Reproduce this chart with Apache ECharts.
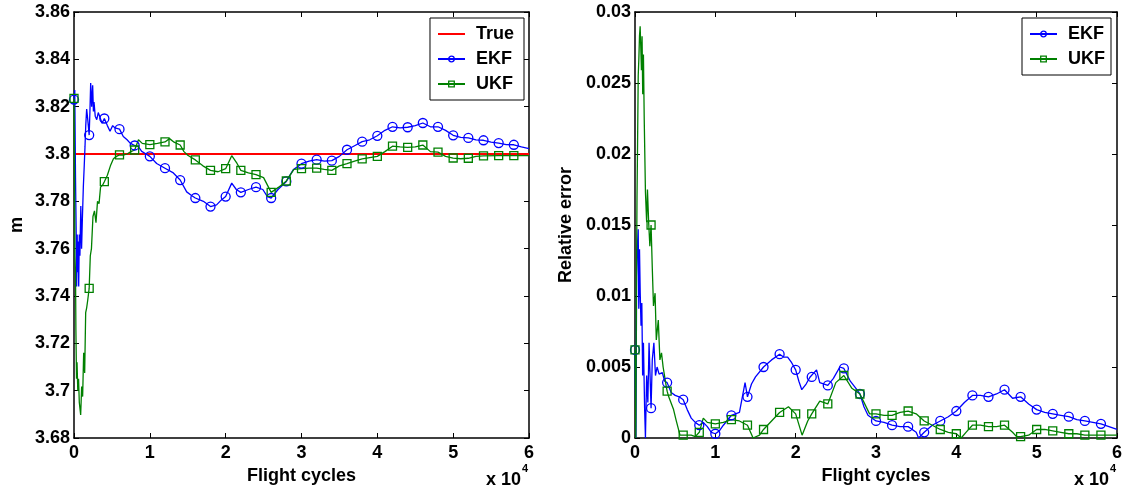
<!DOCTYPE html>
<html><head><meta charset="utf-8">
<script src="https://cdn.jsdelivr.net/npm/echarts@6/dist/echarts.min.js"></script>
<style>html,body{margin:0;padding:0;background:#fff}#c{width:1130px;height:495px}</style>
</head><body><div id="c"></div>
<script>
const xTickLabels = ['0','1','2','3','4','5','6'];
const mTickLabels = ['3.68','3.7','3.72','3.74','3.76','3.78','3.8','3.82','3.84','3.86'];
const errTickLabels = ['0','0.005','0.01','0.015','0.02','0.025','0.03'];

const trueM = [[0,3.8],[60000,3.8]];

const ekfM = [[0,3.823],[100,3.827],[200,3.79],[280,3.769],[350,3.744],[420,3.766],[480,3.750],[550,3.763],[620,3.744],[700,3.766],[780,3.757],[900,3.778],[1000,3.760],[1100,3.772],[1230,3.786],[1350,3.795],[1450,3.803],[1550,3.812],[1670,3.819],[1800,3.815],[2000,3.808],[2100,3.818],[2200,3.830],[2330,3.820],[2460,3.829],[2560,3.818],[2640,3.822],[2800,3.816],[3000,3.8145],[3200,3.8175],[3430,3.818],[3700,3.813],[4000,3.815],[4400,3.812],[4750,3.8096],[5100,3.812],[5410,3.811],[6000,3.8105],[6500,3.8074],[7000,3.806],[7400,3.8046],[8000,3.8036],[8500,3.803],[8930,3.8011],[9500,3.8],[10000,3.799],[10900,3.796],[12000,3.794],[13100,3.792],[14000,3.789],[14860,3.784],[15500,3.7825],[16000,3.7814],[17060,3.780],[18000,3.7778],[18800,3.7785],[19400,3.7805],[20000,3.782],[20800,3.7877],[21400,3.785],[22000,3.7838],[23000,3.785],[24000,3.786],[24900,3.785],[25500,3.782],[26000,3.7814],[26900,3.785],[28000,3.7884],[28900,3.7933],[30000,3.7959],[31000,3.797],[32000,3.7976],[33000,3.797],[34000,3.7972],[35000,3.799],[36000,3.8018],[37000,3.8035],[38000,3.8052],[39000,3.806],[40000,3.8077],[41000,3.810],[42000,3.8115],[43000,3.811],[44000,3.8113],[45000,3.812],[46000,3.8131],[47000,3.8115],[48000,3.8115],[49000,3.810],[50000,3.8079],[51000,3.807],[52000,3.8068],[53000,3.806],[54000,3.8058],[55000,3.805],[56000,3.8046],[57000,3.804],[58000,3.8039],[59000,3.803],[60000,3.8023]];

const ukfM = [[0,3.8235],[60,3.80],[120,3.757],[200,3.750],[250,3.7258],[330,3.705],[400,3.712],[500,3.700],[600,3.705],[700,3.695],[880,3.6897],[1010,3.7017],[1140,3.6975],[1275,3.716],[1407,3.7075],[1540,3.733],[1670,3.735],[1800,3.738],[2000,3.7432],[2150,3.757],[2300,3.76],[2500,3.7736],[2700,3.776],[2900,3.771],[3100,3.78],[3300,3.779],[3500,3.786],[3800,3.787],[4000,3.7883],[4400,3.791],[4800,3.795],[5200,3.798],[5600,3.799],[6000,3.7996],[6500,3.7995],[7000,3.800],[7500,3.801],[8000,3.8017],[8500,3.806],[9000,3.8045],[10000,3.804],[11000,3.8045],[12000,3.8051],[12600,3.8065],[13200,3.805],[14000,3.8038],[14500,3.801],[15000,3.7995],[16000,3.7975],[17000,3.795],[18000,3.7931],[19000,3.7925],[20000,3.7938],[20800,3.7993],[21500,3.796],[22000,3.7931],[23000,3.792],[24000,3.7913],[25000,3.790],[26000,3.7838],[27000,3.786],[28000,3.7886],[29000,3.7935],[30000,3.7938],[31000,3.794],[32000,3.794],[33000,3.7935],[34000,3.7931],[35000,3.795],[36000,3.7959],[37000,3.797],[38000,3.7979],[39000,3.7985],[40000,3.799],[41000,3.801],[42000,3.8033],[43000,3.803],[44000,3.8028],[45000,3.803],[46000,3.8038],[47000,3.801],[48000,3.8008],[49000,3.799],[50000,3.7983],[51000,3.798],[52000,3.7982],[53000,3.799],[54000,3.7992],[56000,3.7993],[58000,3.7993],[60000,3.7993]];

const ekfErr = [[0,0.0062],[60,0.003],[120,0.0],[200,0.0114],[300,0.0135],[400,0.0147],[470,0.0091],[560,0.0133],[650,0.0102],[750,0.0079],[850,0.0095],[950,0.0044],[1050,0.0067],[1200,0.002],[1300,0.0],[1450,0.0044],[1600,0.0025],[1750,0.0067],[2000,0.0021],[2150,0.0055],[2350,0.0067],[2550,0.0044],[2750,0.005],[3000,0.0045],[3400,0.0046],[3700,0.004],[4000,0.0039],[4500,0.0032],[5000,0.003],[5500,0.0029],[6000,0.0027],[6500,0.002],[7000,0.0014],[7500,0.0011],[8000,0.0009],[8500,0.0011],[9000,0.0008],[9500,0.0004],[10000,0.0003],[10500,0.0005],[11000,0.0009],[12000,0.0016],[13000,0.0018],[13700,0.0039],[14000,0.0029],[14500,0.0038],[15000,0.0043],[16000,0.005],[17000,0.0055],[18000,0.0059],[18500,0.0057],[19000,0.0057],[19500,0.0053],[20000,0.0048],[20400,0.0040],[20760,0.0034],[21300,0.0038],[21800,0.0043],[22000,0.0043],[22600,0.0048],[23000,0.0039],[24000,0.0037],[24700,0.0042],[25500,0.0050],[26000,0.0049],[26800,0.0040],[27500,0.0035],[28000,0.0031],[28500,0.0022],[29000,0.0016],[30000,0.0012],[31000,0.0011],[32000,0.0009],[33000,0.0008],[34000,0.0008],[35000,0.0004],[35300,0.0],[36000,0.0004],[37000,0.0009],[38000,0.0012],[39000,0.0015],[40000,0.0019],[41000,0.0025],[42000,0.003],[43000,0.003],[44000,0.0029],[45000,0.0031],[46000,0.0034],[47000,0.0028],[48000,0.0029],[49000,0.0024],[50000,0.002],[51000,0.0018],[52000,0.0017],[53000,0.0016],[54000,0.0015],[55000,0.0013],[56000,0.0012],[57000,0.0011],[58000,0.001],[59000,0.0008],[60000,0.0006]];

const ukfErr = [[0,0.0062],[60,0.003],[100,0.0],[180,0.0107],[250,0.017],[320,0.0207],[400,0.0255],[480,0.0267],[560,0.0283],[640,0.029],[720,0.0275],[800,0.0259],[880,0.0283],[960,0.0242],[1050,0.027],[1150,0.0224],[1300,0.0173],[1450,0.0152],[1550,0.0175],[1700,0.0152],[1850,0.0135],[2000,0.015],[2150,0.012],[2300,0.0093],[2500,0.0102],[2650,0.0069],[2900,0.0083],[3100,0.0055],[3300,0.006],[3500,0.005],[3900,0.0036],[4000,0.0033],[4200,0.0029],[4800,0.002],[5100,0.0013],[5600,0.0002],[6000,0.0002],[7000,0.0002],[7500,0.0001],[8000,0.0004],[8500,0.0014],[9000,0.0011],[10000,0.001],[11000,0.0011],[12000,0.0013],[13000,0.0012],[14000,0.0009],[14700,0.0],[15500,0.0002],[16000,0.0006],[17000,0.0012],[18000,0.0018],[19100,0.0022],[20000,0.0017],[20800,0.0002],[21500,0.0012],[22000,0.0017],[23000,0.0026],[24000,0.0024],[25000,0.0039],[26000,0.0044],[27000,0.0035],[28000,0.0031],[29200,0.0017],[30000,0.0017],[31000,0.0016],[32000,0.0016],[33000,0.0018],[34000,0.0019],[35000,0.0017],[36000,0.0012],[37000,0.0009],[38000,0.0006],[39000,0.0004],[40000,0.0003],[40600,0.0],[41200,0.0004],[42000,0.0009],[43000,0.0009],[44000,0.0008],[45000,0.0008],[46000,0.0009],[47000,0.0004],[47500,0.0001],[48000,0.0001],[49000,0.0002],[50000,0.0006],[51000,0.0006],[52000,0.0005],[53000,0.0004],[54000,0.0003],[55000,0.0003],[56000,0.0002],[57000,0.0002],[58000,0.0002],[59000,0.0002],[60000,0.0002]];

const FONT = 'Liberation Sans, Arial, Helvetica, sans-serif';
const BLUE = '#0000ff', GREEN = '#008000', RED = '#ff0000';
const lbl = {fontFamily: FONT, fontWeight: 'bold', fontSize: 18, color: '#000'};

function xAxes(grid){
  const base = {gridIndex: grid, type: 'value', min: 0, max: 60000, interval: 10000,
    splitLine: {show: false},
    axisLine: {onZero: false, lineStyle: {color: '#000', width: 1.5}},
    axisTick: {inside: true, length: 5, lineStyle: {color: '#000', width: 1}}};
  return [
    Object.assign({}, base, {position: 'bottom', name: 'Flight cycles', nameLocation: 'middle', nameGap: 25,
      nameTextStyle: lbl,
      axisLabel: Object.assign({}, lbl, {margin: 6, formatter: v => xTickLabels[Math.round(v / 10000)]})}),
    Object.assign({}, base, {position: 'top', axisLabel: {show: false}})
  ];
}
function yAxes(grid, min, max, interval, labels, name, gap){
  const base = {gridIndex: grid, type: 'value', min: min, max: max, interval: interval,
    splitLine: {show: false},
    axisLine: {onZero: false, lineStyle: {color: '#000', width: 1.5}},
    axisTick: {inside: true, length: 5, lineStyle: {color: '#000', width: 1}}};
  return [
    Object.assign({}, base, {position: 'left', name: name, nameLocation: 'middle', nameGap: gap,
      nameTextStyle: lbl,
      axisLabel: Object.assign({}, lbl, {margin: 4, formatter: v => labels[Math.round((v - min) / interval)]})}),
    Object.assign({}, base, {position: 'right', axisLabel: {show: false}})
  ];
}

function markerSize(sz){
  return function(val){ return (val[0] % 2000 === 0 && val[0] < 60000) ? sz : 0; };
}
function est(name, data, color, symbol, sz, xi, yi){
  return {name: name, type: 'line', xAxisIndex: xi, yAxisIndex: yi, data: data,
    color: color, symbol: symbol, symbolSize: markerSize(sz), showAllSymbol: true,
    lineStyle: {color: color, width: 1.3},
    itemStyle: {color: 'rgba(255,255,255,0)', borderColor: color, borderWidth: 1.3},
    animation: false, silent: true};
}

const hollow = c => ({color: 'rgba(255,255,255,0)', borderColor: c, borderWidth: 1.3});
const legendBase = {orient: 'vertical', top: 18, backgroundColor: '#fff', borderColor: '#000',
  borderWidth: 1, borderRadius: 0, itemWidth: 27, itemHeight: 7, itemGap: 5,
  textStyle: Object.assign({}, lbl, {lineHeight: 20, padding: [0, 0, 0, 6]}), inactiveColor: '#000'};

const option = {
  animation: false,
  backgroundColor: '#fff',
  grid: [
    {left: 74, right: 1130 - 529, top: 12, bottom: 495 - 438},
    {left: 635, right: 1130 - 1117, top: 12, bottom: 495 - 438}
  ],
  xAxis: xAxes(0).concat(xAxes(1)),
  yAxis: yAxes(0, 3.68, 3.86, 0.02, mTickLabels, 'm', 48)
    .concat(yAxes(1, 0, 0.03, 0.005, errTickLabels, 'Relative error', 60)),
  legend: [
    Object.assign({}, legendBase, {right: 1130 - 524, padding: [6, 10, 6, 7], data: [
      {name: 'True', itemStyle: {opacity: 0}},
      {name: 'EKF', itemStyle: hollow(BLUE)},
      {name: 'UKF', itemStyle: hollow(GREEN)}]}),
    Object.assign({}, legendBase, {right: 1130 - 1111, padding: [6, 6, 6, 7], data: [
      {name: 'EKF', itemStyle: hollow(BLUE)},
      {name: 'UKF', itemStyle: hollow(GREEN)}]})
  ],
  series: [
    {name: 'True', type: 'line', xAxisIndex: 0, yAxisIndex: 0, data: trueM, symbol: 'none',
      color: RED, lineStyle: {color: RED, width: 2}, silent: true},
    est('EKF', ekfM, BLUE, 'circle', 9, 0, 0),
    est('UKF', ukfM, GREEN, 'rect', 8, 0, 0),
    est('EKF', ekfErr, BLUE, 'circle', 9, 2, 2),
    est('UKF', ukfErr, GREEN, 'rect', 8, 2, 2)
  ],
  graphic: [
    {type: 'text', x: 521, y: 480, style: {text: 'x 10', font: 'bold 18px ' + FONT, fill: '#000', textAlign: 'right', textVerticalAlign: 'middle'}},
    {type: 'text', x: 522, y: 469, style: {text: '4', font: 'bold 11px ' + FONT, fill: '#000', textAlign: 'left', textVerticalAlign: 'middle'}},
    {type: 'text', x: 1109, y: 480, style: {text: 'x 10', font: 'bold 18px ' + FONT, fill: '#000', textAlign: 'right', textVerticalAlign: 'middle'}},
    {type: 'text', x: 1110, y: 469, style: {text: '4', font: 'bold 11px ' + FONT, fill: '#000', textAlign: 'left', textVerticalAlign: 'middle'}}
  ]
};
const chart = echarts.init(document.getElementById('c'), null, {renderer: 'canvas'});
chart.setOption(option);
</script>
</body></html>
